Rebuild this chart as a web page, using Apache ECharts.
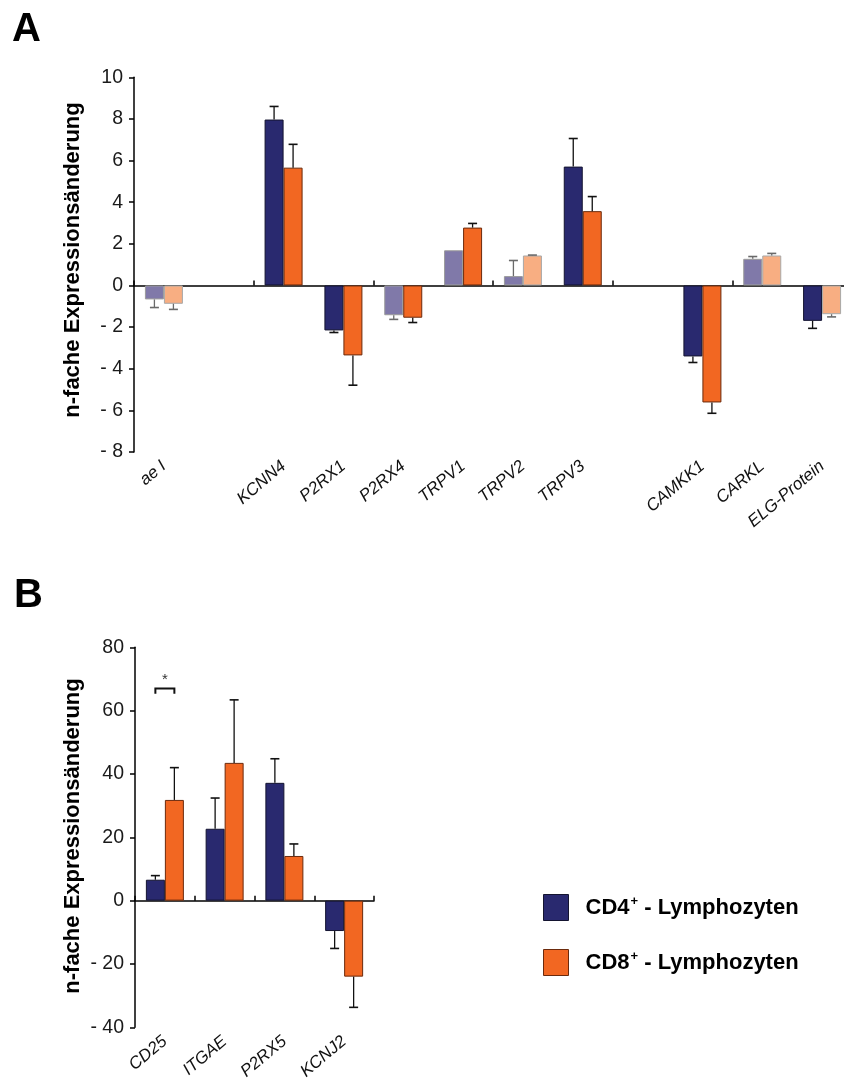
<!DOCTYPE html>
<html>
<head>
<meta charset="utf-8">
<script src="https://cdn.jsdelivr.net/npm/echarts@6/dist/echarts.min.js"></script>
<style>
html,body{margin:0;padding:0;background:#fff;}
#chart{width:844px;height:1088px;}
</style>
</head>
<body>
<div id="chart"></div>
<script>
// ---------- Panel A data ----------
var catsA = ['ae I', '', 'KCNN4', 'P2RX1', 'P2RX4', 'TRPV1', 'TRPV2', 'TRPV3', '', 'CAMKK1', 'CARKL', 'ELG-Protein'];
var cd4A    = [-0.67, null, 7.97, -2.16, -1.43, 1.69, 0.45, 5.71, null, -3.41, 1.28, -1.70];
var cd4AErr = [-1.06, null, 8.60, -2.26, -1.63, null, 1.20, 7.06, null, -3.70, 1.39, -2.06];
var cd8A    = [-0.88, null, 5.66, -3.36, -1.55, 2.78, 1.44, 3.57, null, -5.62, 1.44, -1.38];
var cd8AErr = [-1.15, null, 6.78, -4.79, -1.78, 2.98, 1.46, 4.27, null, -6.14, 1.54, -1.51];
var cd4AFaded = [1, 0, 0, 0, 1, 1, 1, 0, 0, 0, 1, 0];
var cd8AFaded = [1, 0, 0, 0, 0, 0, 1, 0, 0, 0, 1, 1];
var yTicksA = {min: -8, max: 10, interval: 2};

// ---------- Panel B data ----------
var catsB = ['CD25', 'ITGAE', 'P2RX5', 'KCNJ2'];
var cd4B    = [6.6, 22.7, 37.2, -9.6];
var cd4BErr = [7.9, 32.4, 44.8, -15.1];
var cd8B    = [31.8, 43.5, 14.1, -24.0];
var cd8BErr = [42.0, 63.4, 17.9, -33.7];
var sigCatsB = [0];
var sigLevelB = [67.0];
var sigLegB = [65.3];
var sigLabelB = ['*'];
var yTicksB = {min: -40, max: 80, interval: 20};

var seriesNames = ['CD4', 'CD8'];
var legendTexts = {CD4: '{b|CD4}{s|+}{b| - Lymphozyten}', CD8: '{b|CD8}{s|+}{b| - Lymphozyten}'};
var yTitle = 'n-fache Expressionsänderung';

// ---------- styles ----------
var FONT = 'Liberation Sans, Arial, sans-serif';
var C = {
  cd4: '#29296F', cd4Faded: '#8079A9', cd4Border: '#141430', cd4FadedBorder: '#9a9a9a',
  cd8: '#F26722', cd8Faded: '#F8AE82', cd8Border: '#6b2a0c', cd8FadedBorder: '#a8a8a8',
  err: '#111', errFaded: '#6a6a6a'
};
var BAR_W = 19;

function barData(vals, faded, isCd4) {
  return vals.map(function (v, i) {
    if (v === null) return '-';
    var f = faded && faded[i];
    return {
      value: v,
      itemStyle: {
        color: isCd4 ? (f ? C.cd4Faded : C.cd4) : (f ? C.cd8Faded : C.cd8),
        borderColor: isCd4 ? (f ? C.cd4FadedBorder : C.cd4Border) : (f ? C.cd8FadedBorder : C.cd8Border)
      }
    };
  });
}

function errData(vals, errs, faded) {
  var out = [];
  vals.forEach(function (v, i) {
    if (v === null || errs[i] === null) return;
    out.push([i, v, errs[i], faded && faded[i] ? 1 : 0]);
  });
  return out;
}

function errSeries(name, xi, yi, vals, errs, faded, side) {
  return {
    type: 'custom', name: name, xAxisIndex: xi, yAxisIndex: yi, z: 5,
    silent: true,
    data: errData(vals, errs, faded),
    renderItem: function (params, api) {
      var cat = api.value(0);
      var p0 = api.coord([cat, api.value(1)]);
      var p1 = api.coord([cat, api.value(2)]);
      var x = p0[0] + side * BAR_W / 2;
      var col = api.value(3) ? C.errFaded : C.err;
      return {
        type: 'group',
        children: [
          {type: 'line', shape: {x1: x, y1: p0[1], x2: x, y2: p1[1]}, style: {stroke: col, lineWidth: 1.3}},
          {type: 'line', shape: {x1: x - 4.5, y1: p1[1], x2: x + 4.5, y2: p1[1]}, style: {stroke: col, lineWidth: 1.6}}
        ]
      };
    }
  };
}

function yFmt(v) { return v < 0 ? '- ' + Math.abs(v) : String(v); }

var axisLineStyle = {color: '#000', width: 1.5};

function labelAxis(grid, cats) {
  return {
    type: 'category', gridIndex: grid, data: cats, position: 'bottom',
    axisLine: {show: false, onZero: false}, axisTick: {show: false},
    axisLabel: {rotate: 40, margin: 12, fontSize: 17, fontStyle: 'italic', color: '#111',
      fontFamily: FONT, interval: 0}
  };
}
function zeroAxis(grid, cats) {
  return {
    type: 'category', gridIndex: grid, data: cats,
    axisLine: {show: true, onZero: true, lineStyle: axisLineStyle},
    axisTick: {show: true, length: 5, lineStyle: {color: '#000', width: 1.5}},
    axisLabel: {show: false}
  };
}
function valAxis(grid, t) {
  return {
    type: 'value', gridIndex: grid, min: t.min, max: t.max, interval: t.interval,
    splitLine: {show: false},
    axisLine: {show: true, onZero: false, lineStyle: axisLineStyle},
    axisTick: {show: true, length: 5, lineStyle: {color: '#000', width: 1.5}},
    axisLabel: {formatter: yFmt, fontSize: 19.5, color: '#1a1a1a', margin: 11, fontFamily: FONT}
  };
}

var chart = echarts.init(document.getElementById('chart'), null, {renderer: 'canvas'});

var option = {
  animation: false,
  backgroundColor: '#fff',
  textStyle: {fontFamily: FONT},
  grid: [
    {left: 134, top: 77.3, width: 718, height: 374.7, outerBoundsMode: 'none', containLabel: false},
    {left: 135, top: 647.3, width: 239, height: 380, outerBoundsMode: 'none', containLabel: false}
  ],
  xAxis: [labelAxis(0, catsA), zeroAxis(0, catsA), labelAxis(1, catsB), zeroAxis(1, catsB)],
  yAxis: [valAxis(0, yTicksA), valAxis(1, yTicksB)],
  legend: {
    orient: 'vertical', left: 543, top: 894, padding: 0, itemWidth: 25, itemHeight: 26, itemGap: 28,
    icon: 'rect',
    data: seriesNames, selectedMode: false,
    formatter: function (n) { return legendTexts[n]; },
    textStyle: {
      padding: [0, 0, 0, 12],
      rich: {
        b: {fontSize: 22, fontWeight: 'bold', color: '#000', fontFamily: FONT},
        s: {fontSize: 13, fontWeight: 'bold', color: '#000', verticalAlign: 'top', padding: [0, 0, 12, 1],
            fontFamily: FONT}
      }
    },
    itemStyle: {borderWidth: 1}
  },
  graphic: [
    {type: 'text', left: 12, top: 10, style: {text: 'A', fontSize: 40, fontWeight: 'bold', fill: '#000', fontFamily: FONT}},
    {type: 'text', left: 14, top: 576, style: {text: 'B', fontSize: 40, fontWeight: 'bold', fill: '#000', fontFamily: FONT}},
    {type: 'text', x: 73, y: 260, rotation: Math.PI / 2,
      style: {text: yTitle, fontSize: 22, fontWeight: 'bold', fill: '#000', align: 'center', verticalAlign: 'middle', fontFamily: FONT}},
    {type: 'text', x: 73, y: 836, rotation: Math.PI / 2,
      style: {text: yTitle, fontSize: 22, fontWeight: 'bold', fill: '#000', align: 'center', verticalAlign: 'middle', fontFamily: FONT}}
  ],
  series: [
    {type: 'bar', name: 'CD4', xAxisIndex: 0, yAxisIndex: 0, barWidth: BAR_W, barGap: '0%',
      itemStyle: {color: C.cd4, borderColor: C.cd4Border, borderWidth: 1},
      data: barData(cd4A, cd4AFaded, true)},
    {type: 'bar', name: 'CD8', xAxisIndex: 0, yAxisIndex: 0, barWidth: BAR_W, barGap: '0%',
      itemStyle: {color: C.cd8, borderColor: C.cd8Border, borderWidth: 1},
      data: barData(cd8A, cd8AFaded, false)},
    errSeries('errA4', 0, 0, cd4A, cd4AErr, cd4AFaded, -1),
    errSeries('errA8', 0, 0, cd8A, cd8AErr, cd8AFaded, 1),
    {type: 'bar', name: 'CD4', xAxisIndex: 2, yAxisIndex: 1, barWidth: BAR_W, barGap: '0%',
      itemStyle: {color: C.cd4, borderColor: C.cd4Border, borderWidth: 1},
      data: barData(cd4B, null, true)},
    {type: 'bar', name: 'CD8', xAxisIndex: 2, yAxisIndex: 1, barWidth: BAR_W, barGap: '0%',
      itemStyle: {color: C.cd8, borderColor: C.cd8Border, borderWidth: 1},
      data: barData(cd8B, null, false)},
    errSeries('errB4', 2, 1, cd4B, cd4BErr, null, -1),
    errSeries('errB8', 2, 1, cd8B, cd8BErr, null, 1),
    {
      type: 'custom', name: 'sig', xAxisIndex: 2, yAxisIndex: 1, z: 6, silent: true,
      data: sigCatsB.map(function (c, i) { return [c, sigLevelB[i], sigLegB[i], i]; }),
      renderItem: function (params, api) {
        var cat = api.value(0);
        var top = api.coord([cat, api.value(1)]);
        var leg = api.coord([cat, api.value(2)]);
        var xl = top[0] - BAR_W / 2, xr = top[0] + BAR_W / 2;
        return {
          type: 'group',
          children: [
            {type: 'polyline', shape: {points: [[xl, leg[1]], [xl, top[1]], [xr, top[1]], [xr, leg[1]]]},
              style: {stroke: '#111', lineWidth: 2, fill: null}},
            {type: 'text', x: top[0], y: top[1] - 1,
              style: {text: sigLabelB[api.value(3)], fontSize: 15, fill: '#333', align: 'center', verticalAlign: 'bottom', fontFamily: FONT}}
          ]
        };
      }
    }
  ]
};
chart.setOption(option);
</script>
</body>
</html>
